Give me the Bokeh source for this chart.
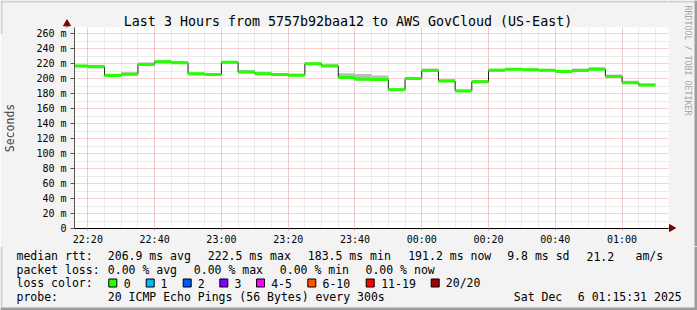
import numpy as np
import pandas as pd
from math import pi
from bokeh.plotting import figure
from bokeh.models import FixedTicker, DatetimeTickFormatter, Range1d, ColumnDataSource
from bokeh.core.properties import value
from bokeh.embed import file_html
from bokeh.resources import INLINE

# ---------------- data ----------------
title_text = "Last 3 Hours from 5757b92baa12 to AWS GovCloud (US-East)"
step_start = pd.date_range("2025-12-05 22:15", periods=35, freq="5min")
median_ms = [216.8, 215.7, 204.0, 205.7, 218.8, 222.5, 221.0, 206.2, 205.3, 221.7,
             208.6, 206.4, 205.3, 204.2, 219.7, 216.8, 201.3, 199.0, 198.6, 185.1,
             200.0, 210.6, 196.6, 183.5, 195.7, 211.0, 212.4, 211.7, 211.0, 209.3,
             210.6, 212.4, 202.7, 194.4, 191.2]
smoke_hi_ms = [218.5, 218.5, 206.5, 208.5, 221.5, 224.5, 223.0, 208.0, 207.0, 223.5,
               211.5, 209.0, 207.5, 206.5, 221.5, 219.0, 207.0, 206.0, 204.0, 187.0,
               202.0, 213.5, 199.0, 185.5, 198.0, 213.0, 214.0, 213.5, 212.5, 211.5,
               213.5, 215.0, 205.5, 197.0, 193.5]
smoke_lo_ms = [215.5, 214.5, 202.5, 204.0, 217.5, 221.0, 219.5, 204.5, 204.0, 220.0,
               207.0, 205.0, 204.0, 203.0, 218.5, 215.5, 199.5, 197.5, 197.0, 183.5,
               198.5, 209.0, 195.0, 182.0, 194.0, 209.5, 211.0, 210.5, 209.5, 208.0,
               209.0, 211.0, 201.0, 193.0, 189.5]
y_ticks = [0, 20, 40, 60, 80, 100, 120, 140, 160, 180, 200, 220, 240, 260]
y_tick_labels = ["0", "20 m", "40 m", "60 m", "80 m", "100 m", "120 m", "140 m",
                 "160 m", "180 m", "200 m", "220 m", "240 m", "260 m"]
y_minor = [10, 30, 50, 70, 90, 110, 130, 150, 170, 190, 210, 230, 250, 270]
x_major_times = pd.date_range("2025-12-05 22:20", "2025-12-06 01:00", freq="20min")
x_minor_times = pd.date_range("2025-12-05 22:15", "2025-12-06 01:15", freq="5min")
view_start = pd.Timestamp("2025-12-05 22:16")
view_end = pd.Timestamp("2025-12-06 01:16")

rtt_label = "median rtt:"
rtt_items = ["206.9 ms avg", "222.5 ms max", "183.5 ms min", "191.2 ms now", "9.8 ms sd", "21.2", "am/s"]
loss_label = "packet loss:"
loss_items = ["0.00 % avg", "0.00 % max", "0.00 % min", "0.00 % now"]
color_label = "loss color:"
loss_classes = ["0", "1", "2", "3", "4-5", "6-10", "11-19", "20/20"]
loss_colors = ["#26ff00", "#00b8ff", "#0059ff", "#7e00ff", "#ff00ff", "#ff5500", "#ff0000", "#a10000"]
probe_label = "probe:"
probe_text = "20 ICMP Echo Pings (56 Bytes) every 300s"
date_parts = ["Sat Dec", "6 01:15:31 2025"]
credit = "RRDTOOL / TOBI OETIKER"

# ---------------- layout constants (page pixels) ----------------
W, H = 697, 310
FL, FR, FT, FB = 67, 668, 27, 228     # plot frame edges
MAIN_BOTTOM = 246                      # end of x tick label band
TOP_H = 34                             # transparent title overlay height
BG = "#f3f3f3"
SHADE_A = "#cfcfcf"
SHADE_B = "#9c9c9c"
MONO = "DejaVu Sans Mono"
BASE_SHIFT = 2.7                       # renderer places alphabetic baseline slightly low


def to_ms(t):
    return np.asarray(pd.DatetimeIndex(t).asi8, dtype=float) / 1e6


def place(f, left, top):
    f.styles = {"position": "absolute", "left": f"{left}px", "top": f"{top}px"}


def strip(w, h, bg=BG):
    f = figure(width=w, height=h, x_range=Range1d(0, w), y_range=Range1d(h, 0),
               min_border=0, toolbar_location=None, output_backend="svg",
               x_axis_location=None, y_axis_location=None, title=None)
    f.grid.visible = False
    f.outline_line_color = None
    f.background_fill_color = bg
    f.border_fill_color = bg
    return f


def txt(f, s, x, y, size="11.5px", color="black", align="left", baseline="alphabetic", angle=0.0):
    if baseline == "alphabetic":
        y = y - BASE_SHIFT
    f.text(x=[x], y=[y], text=[s], text_font=value(MONO), text_font_size=value(size),
           text_color=color, text_align=align, text_baseline=baseline, angle=angle)


# ---------------- main plot ----------------
starts = to_ms(step_start)
ends = starts + 300000.0
med = np.array(median_ms)

p = figure(x_axis_type="datetime", title=None,
           frame_width=FR - FL, frame_height=FB - FT,
           min_border_left=FL, min_border_right=W - FR, min_border_top=FT,
           min_border_bottom=MAIN_BOTTOM - FB,
           x_range=Range1d(view_start.value / 1e6, view_end.value / 1e6),
           y_range=Range1d(0, 268),
           output_backend="svg", toolbar_location=None)
place(p, 0, 0)
p.background_fill_color = "white"
p.border_fill_color = BG
p.outline_line_color = None

src = ColumnDataSource(dict(left=starts, right=ends, lo=smoke_lo_ms, hi=smoke_hi_ms, med=median_ms))
p.quad(left="left", right="right", bottom="lo", top="hi", source=src,
       fill_color="#bcbcbc", line_color=None)
p.segment(x0=ends[:-1], x1=ends[:-1], y0=med[:-1], y1=med[1:], line_color="#202020", line_width=1)
p.segment(x0="left", x1="right", y0="med", y1="med", source=src,
          line_color="#26ff00", line_width=3, line_cap="butt")

p.yaxis.ticker = FixedTicker(ticks=y_ticks, minor_ticks=y_minor)
p.yaxis.major_label_overrides = {t: l for t, l in zip(y_ticks, y_tick_labels)}
p.xaxis.ticker = FixedTicker(ticks=list(to_ms(x_major_times)), minor_ticks=list(to_ms(x_minor_times)))
fmt = "%H:%M"
p.xaxis.formatter = DatetimeTickFormatter(milliseconds=fmt, seconds=fmt, minsec=fmt, minutes=fmt,
                                          hourmin=fmt, hours=fmt, days=fmt)
for ax in (p.xaxis[0], p.yaxis[0]):
    ax.major_label_text_font = MONO
    ax.major_label_text_font_size = "10px"
    ax.major_label_text_color = "black"
    ax.minor_tick_out = 0
    ax.minor_tick_in = 0
    ax.major_tick_in = 0
p.yaxis.axis_line_color = "#555555"
p.yaxis.major_tick_line_color = "#555555"
p.yaxis.major_tick_out = 4
p.yaxis.major_label_standoff = 4
p.yaxis.axis_label = "Seconds"
p.yaxis.axis_label_text_font = MONO
p.yaxis.axis_label_text_font_size = "11.5px"
p.yaxis.axis_label_text_font_style = "normal"
p.yaxis.axis_label_standoff = 16
p.xaxis.axis_line_color = "black"
p.xaxis.major_tick_line_color = "#e89a9a"
p.xaxis.major_tick_out = 2
p.xaxis.major_label_standoff = 3

for g in (p.xgrid[0], p.ygrid[0]):
    g.grid_line_color = "#f2a6a6"
    g.grid_line_dash = "1 1"
    g.minor_grid_line_color = "#d8d8d8"
    g.minor_grid_line_dash = "1 1"

# ---------------- top overlay (transparent): title, y-axis arrow ----------------
top = strip(FR, TOP_H, bg=None)
place(top, 0, 0)
top.quad(left=[0], right=[FR], top=[0], bottom=[2], fill_color=SHADE_A, line_color=None)
top.quad(left=[0], right=[2], top=[0], bottom=[TOP_H], fill_color=SHADE_A, line_color=None)
txt(top, title_text, 347.5, 24, size="13.3px", align="center")
top.segment(x0=[FL - 0.5], x1=[FL - 0.5], y0=[23], y1=[FT], line_color="#555555", line_width=1)
top.scatter(x=[FL - 0.5], y=[23.3], marker="triangle", size=7, fill_color="#800000", line_color="#800000")

# ---------------- right strip: credit, x-axis arrow ----------------
RW = W - FR
right = strip(RW, MAIN_BOTTOM)
place(right, FR, 0)
right.quad(left=[0], right=[RW], top=[0], bottom=[2], fill_color=SHADE_A, line_color=None)
right.quad(left=[RW - 3], right=[RW], top=[0], bottom=[MAIN_BOTTOM], fill_color=SHADE_B, line_color=None)
txt(right, credit, 687.5 - FR, 5, size="8.3px", color="#a5a5a5", baseline="middle", angle=-pi / 2)
right.segment(x0=[0], x1=[2], y0=[FB - 0.5], y1=[FB - 0.5], line_color="black", line_width=1)
right.scatter(x=[3.0], y=[FB - 0.5], marker="triangle", angle=-pi / 2, size=7,
              fill_color="#800000", line_color="#800000")

# ---------------- legend strip ----------------
LH = H - MAIN_BOTTOM
leg = strip(W, LH)
place(leg, 0, MAIN_BOTTOM)
leg.quad(left=[0], right=[2], top=[0], bottom=[LH], fill_color=SHADE_A, line_color=None)
leg.quad(left=[W - 3], right=[W], top=[0], bottom=[LH], fill_color=SHADE_B, line_color=None)
leg.quad(left=[0], right=[W], top=[LH - 3], bottom=[LH], fill_color=SHADE_B, line_color=None)
rows = [y - MAIN_BOTTOM for y in (258.3, 271.9, 285.5, 299.1)]
txt(leg, rtt_label, 16, rows[0])
for s, x in zip(rtt_items, [107.3, 207.3, 307.3, 407.7, 506.7, 586, 635]):
    txt(leg, s, x, rows[0])
txt(leg, loss_label, 16, rows[1])
for s, x in zip(loss_items, [107.3, 193.3, 279.3, 365]):
    txt(leg, s, x, rows[1])
txt(leg, color_label, 16, rows[2])
box_x = np.array([108.3, 145.7, 182.7, 219.3, 256, 307.3, 365.7, 430.7])
lab_x = [123.3, 160, 197.3, 234, 270.7, 322, 380.7, 445.3]
leg.quad(left=box_x, right=box_x + 8, top=[278.5 - MAIN_BOTTOM] * len(box_x),
         bottom=[286.5 - MAIN_BOTTOM] * len(box_x), fill_color=loss_colors,
         line_color="black", line_width=1)
for s, x in zip(loss_classes, lab_x):
    txt(leg, s, x, rows[2])
txt(leg, probe_label, 16, rows[3])
txt(leg, probe_text, 107.3, rows[3])
txt(leg, date_parts[0], 513.3, rows[3])
txt(leg, date_parts[1], 577.3, rows[3])

open("out.html", "w").write(file_html([p, right, leg, top], INLINE))
